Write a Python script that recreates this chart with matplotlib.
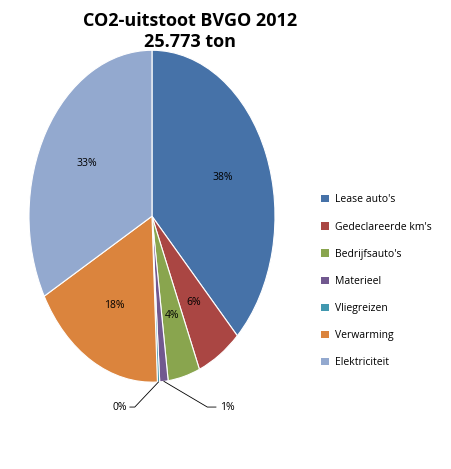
import numpy as np
import matplotlib.pyplot as plt
from matplotlib.patches import Patch

labels = ["Lease auto's", "Gedeclareerde km's", "Bedrijfsauto's", "Materieel",
          "Vliegreizen", "Verwarming", "Elektriciteit"]
values = [37.8, 5.9, 4.2, 1.1, 0.3, 17.7, 33.0]
pct_text = ["38%", "6%", "4%", "1%", "0%", "18%", "33%"]
colors = ["#4672a8", "#aa4643", "#89a54e", "#71588f", "#4198af", "#db843d", "#93a9cf"]

plt.rcParams["font.family"] = ["Open Sans", "DejaVu Sans"]
fig = plt.figure(figsize=(4.52, 4.69), dpi=100)
fig.text(0.42, 0.975, "CO2-uitstoot BVGO 2012\n25.773 ton", ha="center", va="top",
         fontsize=13, fontweight="bold", linespacing=1.2)

# pie is drawn as an ellipse in a non-equal axes
ax = fig.add_axes([-0.0175, 0.079, 0.7075, 0.92])
wedges, _ = ax.pie(values, colors=colors, startangle=90, counterclock=False,
                   wedgeprops=dict(edgecolor="white", linewidth=0.8))
ax.set_aspect("auto")
ax.set_xlim(-1.3, 1.3)
ax.set_ylim(-1.3, 1.3)
ax.axis("off")

total = sum(values)
start = 90.0
for i, v in enumerate(values):
    mid = np.deg2rad(start - 360 * v / total / 2)
    start -= 360 * v / total
    x0, y0 = np.cos(mid), np.sin(mid)
    if i == 3:
        ax.plot([x0, 0.45, 0.52], [y0, -1.15, -1.15], color="black", lw=0.6)
        ax.text(0.55, -1.15, pct_text[i], va="center", ha="left", fontsize=7.5)
    elif i == 4:
        ax.plot([x0, -0.14, -0.18], [y0, -1.15, -1.15], color="black", lw=0.6)
        ax.text(-0.2, -1.15, pct_text[i], va="center", ha="right", fontsize=7.5)
    else:
        r = 0.62
        ax.text(r * x0, r * y0, pct_text[i], ha="center", va="center", fontsize=7.5)

handles = [Patch(facecolor=c, label=l) for c, l in zip(colors, labels)]
fig.legend(handles=handles, loc="center left", bbox_to_anchor=(0.69, 0.4), frameon=False,
           fontsize=7.5, handlelength=0.7, handleheight=0.7, labelspacing=1.55,
           handletextpad=0.6)

fig.savefig("out.png")
